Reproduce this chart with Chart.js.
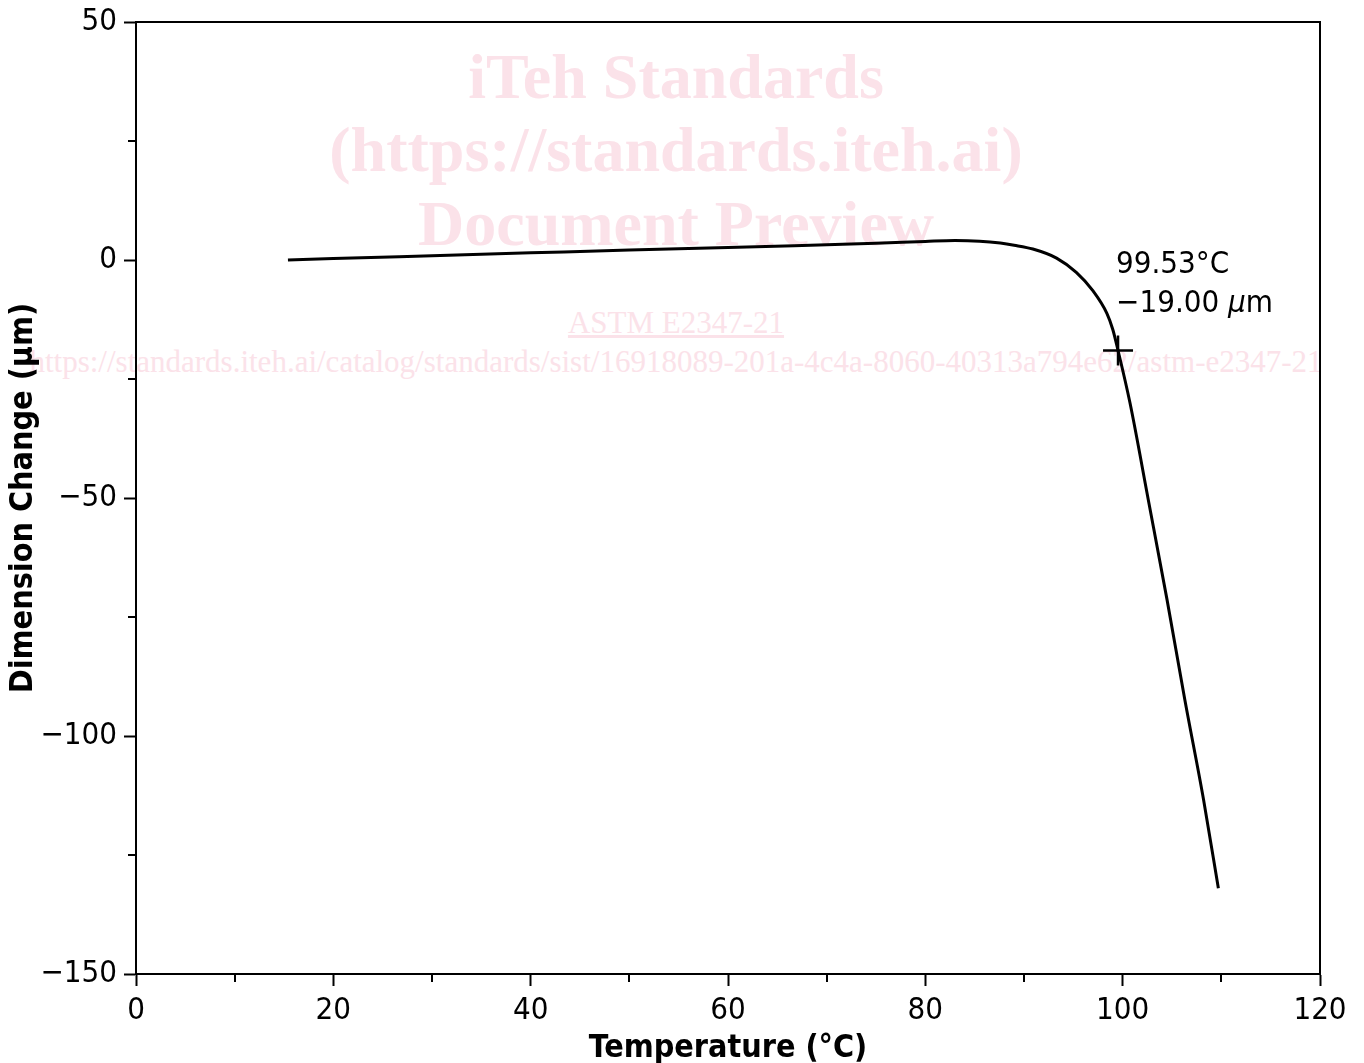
<!DOCTYPE html>
<html>
<head>
<meta charset="utf-8">
<script src="https://cdn.jsdelivr.net/npm/chart.js@4.4.1/dist/chart.umd.min.js"></script>
<style>
  html, body { margin: 0; padding: 0; background: #ffffff; }
  #wrap { position: relative; width: 1364px; height: 1063px; overflow: hidden; }
  .wm { position: absolute; left: -6px; width: 1364px; text-align: center; white-space: nowrap;
        font-family: 'Liberation Serif', 'Times New Roman', serif; color: #fbe2e9; z-index: 0; }
  .big { font-size: 64px; font-weight: bold; line-height: 64px; }
  .small { font-size: 31px; line-height: 31px; }
  #chart { position: absolute; left: 0; top: 0; z-index: 1; }
</style>
</head>
<body>
<div id="wrap">
  <div class="wm big" style="top:45px;">iTeh Standards</div>
  <div class="wm big" style="top:118px;">(https://standards.iteh.ai)</div>
  <div class="wm big" style="top:192px;">Document Preview</div>
  <div class="wm small" style="top:307px;"><span style="text-decoration: underline;">ASTM E2347-21</span></div>
  <div class="wm small" style="top:346px;">https://standards.iteh.ai/catalog/standards/sist/16918089-201a-4c4a-8060-40313a794e62/astm-e2347-21</div>
  <canvas id="chart" width="1364" height="1063"></canvas>
</div>
<script>
// ---- data ----
const temperature = [15.4, 20, 30, 40, 50, 60, 70, 75, 80, 83, 85.5, 87.6, 89, 90.9, 93.3, 95.3, 97.0, 98.4, 99.0, 99.53, 100.74, 102.6, 104.5, 106.3, 108.2, 109.7];
const dimChange   = [0.0, 0.3, 0.9, 1.5, 2.1, 2.6, 3.2, 3.5, 3.9, 4.1, 3.95, 3.55, 3.1, 2.3, 0.4, -2.6, -6.5, -11.2, -14.6, -19.0, -30.0, -50.4, -71.4, -92.4, -113.4, -132.0];
const markerTemp  = [99.53];
const markerDim   = [-19.00];
const markerLabels = ['99.53\u00B0C', '\u221219.00 ', '\u00B5', 'm'];
const xTicks = [0, 20, 40, 60, 80, 100, 120];
const xMinorTicks = [10, 30, 50, 70, 90, 110];
const yTicks = [-150, -100, -50, 0, 50];
const yMinorTicks = [-125, -75, -25, 25];
const xTitle = 'Temperature (\u00B0C)';
const yTitle = 'Dimension Change (\u00B5m)';

const FAMILY = "'DejaVu Sans Condensed', 'DejaVu Sans', sans-serif";
Chart.defaults.font.family = FAMILY;
Chart.defaults.color = '#000';

const fmt = v => (v < 0 ? '\u2212' + Math.abs(v) : String(v));

const boxAndMinor = {
  id: 'boxAndMinor',
  afterDraw(chart) {
    const { ctx, chartArea: a, scales } = chart;
    ctx.save();
    ctx.strokeStyle = '#000';
    ctx.lineWidth = 2;
    ctx.beginPath();
    ctx.moveTo(a.left, a.top); ctx.lineTo(a.right, a.top); ctx.lineTo(a.right, a.bottom);
    ctx.stroke();
    ctx.beginPath();
    xMinorTicks.forEach(v => {
      const px = Math.round(scales.x.getPixelForValue(v));
      ctx.moveTo(px, a.bottom); ctx.lineTo(px, a.bottom + 8);
    });
    yMinorTicks.forEach(v => {
      const py = Math.round(scales.y.getPixelForValue(v));
      ctx.moveTo(a.left, py); ctx.lineTo(a.left - 8, py);
    });
    ctx.stroke();
    ctx.restore();
  }
};

const markerText = {
  id: 'markerText',
  afterDatasetsDraw(chart) {
    const meta = chart.getDatasetMeta(1);
    const pt = meta.data[0];
    if (!pt) return;
    const { ctx } = chart;
    const x0 = pt.x - 2;
    ctx.save();
    ctx.fillStyle = '#000';
    ctx.textAlign = 'left';
    ctx.textBaseline = 'alphabetic';
    const normal = '31px ' + FAMILY;
    const italic = 'italic 31px ' + FAMILY;
    ctx.font = normal;
    ctx.fillText(markerLabels[0], x0, pt.y - 77);
    let x = x0;
    const y2 = pt.y - 38;
    ctx.fillText(markerLabels[1], x, y2); x += ctx.measureText(markerLabels[1]).width;
    ctx.font = italic;
    ctx.fillText(markerLabels[2], x, y2); x += ctx.measureText(markerLabels[2]).width;
    ctx.font = normal;
    ctx.fillText(markerLabels[3], x, y2);
    ctx.restore();
  }
};

new Chart(document.getElementById('chart'), {
  type: 'scatter',
  data: {
    datasets: [
      {
        data: temperature.map((t, i) => ({ x: t, y: dimChange[i] })),
        showLine: true,
        borderColor: '#000',
        borderWidth: 3,
        pointRadius: 0,
        cubicInterpolationMode: 'monotone',
        fill: false
      },
      {
        data: markerTemp.map((t, i) => ({ x: t, y: markerDim[i] })),
        showLine: false,
        pointStyle: 'cross',
        pointRadius: 15,
        borderColor: '#000',
        borderWidth: 2.5,
        backgroundColor: '#000'
      }
    ]
  },
  options: {
    responsive: false,
    animation: false,
    devicePixelRatio: 1,
    layout: { padding: { top: 22, right: 44, left: 0, bottom: 0 } },
    plugins: { legend: { display: false }, tooltip: { enabled: false } },
    scales: {
      x: {
        type: 'linear', min: 0, max: 120,
        afterBuildTicks: s => { s.ticks = xTicks.map(v => ({ value: v })); },
        afterFit: s => { s.height = 89; },
        grid: { drawOnChartArea: false, drawTicks: true, tickLength: 12, tickWidth: 2, tickColor: '#000' },
        border: { display: true, color: '#000', width: 2 },
        ticks: { font: { size: 31 }, color: '#000', padding: 6, maxRotation: 0, callback: v => fmt(v) },
        title: { display: true, text: xTitle, font: { size: 32, weight: 'bold' }, color: '#000', padding: { top: 0, bottom: -5 } }
      },
      y: {
        type: 'linear', min: -150, max: 50,
        afterBuildTicks: s => { s.ticks = yTicks.map(v => ({ value: v })); },
        afterFit: s => { s.width = 136; },
        grid: { drawOnChartArea: false, drawTicks: true, tickLength: 12, tickWidth: 2, tickColor: '#000' },
        border: { display: true, color: '#000', width: 2 },
        ticks: { font: { size: 31, lineHeight: 0.9 }, color: '#000', padding: 7, callback: v => fmt(v) },
        title: { display: true, text: yTitle, font: { size: 32, weight: 'bold' }, color: '#000', padding: { top: 4, bottom: 0 } }
      }
    }
  },
  plugins: [boxAndMinor, markerText]
});
</script>
</body>
</html>
